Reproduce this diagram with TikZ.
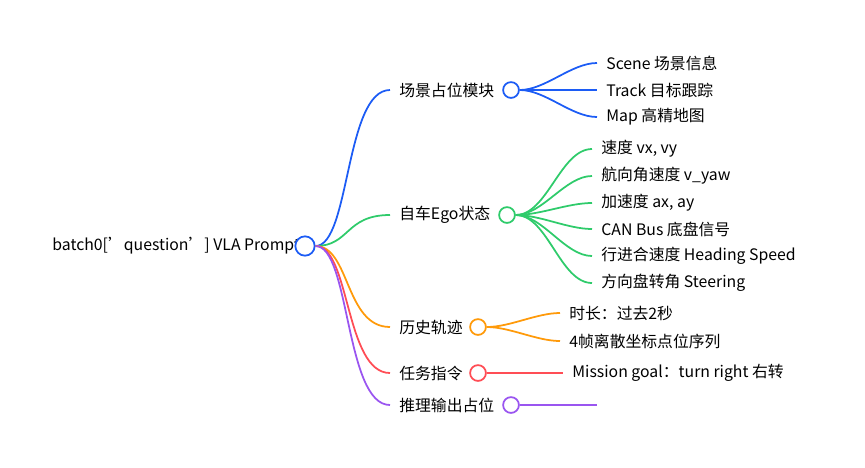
\documentclass[tikz,border=0pt]{standalone}
\usepackage{fontspec}
\setmainfont{Noto Sans CJK SC}
\begin{document}
\begin{tikzpicture}[x=0.02cm,y=-0.02cm]
% Styles
\tikzstyle{texte}=[inner sep=0pt,anchor=west,font=\fontsize{9}{11}\selectfont]
\tikzstyle{branche}=[line width=1pt]
\tikzstyle{rond}=[circle,draw,fill=white,line width=1pt,inner sep=0pt,minimum size=9pt]
\definecolor{bleu}{HTML}{1C5CF5}
\definecolor{vert}{HTML}{2FCB6B}
\definecolor{orange}{HTML}{FF9A0A}
\definecolor{rouge}{HTML}{FF4D55}
\definecolor{violet}{HTML}{9A55F0}
\useasboundingbox (0,0) rectangle (865,467);
% Racine
\node[texte] (racine) at (52,246) {batch0['question'] VLA Prompt};
\node[rond,draw=bleu,minimum size=11pt] (r) at (305,246) {};
% Branches
\foreach \nom/\y/\cx/\coul/\txt in {b1/90/511/bleu/场景占位模块, b2/215/507/vert/自车Ego状态, b3/327/478/orange/历史轨迹, b4/373/478/rouge/任务指令, b5/405/511/violet/推理输出占位}{
  \coordinate (\nom d) at (390,\y);
  \node[texte] (\nom t) at (399,\y) {\txt};
  \node[rond,draw=\coul] (\nom) at (\cx,\y) {};
  \draw[branche,\coul] (r.east) .. controls (350,246) and (345,\y) .. (\nom d);
}
% Feuilles
\foreach \p/\y/\xf/\coul/\txt in {b1/63/597/bleu/Scene 场景信息, b1/90/597/bleu/Track 目标跟踪, b1/117/597/bleu/Map 高精地图,
  b2/149/592/vert/{速度 vx, vy}, b2/176/592/vert/航向角速度 v\_yaw, b2/203/592/vert/{加速度 ax, ay}, b2/229/592/vert/CAN Bus 底盘信号, b2/256/592/vert/行进合速度 Heading Speed, b2/283/592/vert/方向盘转角 Steering,
  b3/313/560/orange/时长：过去2秒, b3/341/560/orange/4帧离散坐标点位序列,
  b4/373/563/rouge/Mission goal：turn right 右转}{
  \coordinate (f) at (\xf,\y);
  \node[texte] at (\xf+9,\y) {\txt};
  \draw[branche,\coul] (\p.east) to[out=0,in=180,looseness=0.8] (f);
}
\coordinate (vide) at (597,405);
\draw[branche,violet] (b5.east) -- (vide);
\end{tikzpicture}
\end{document}
